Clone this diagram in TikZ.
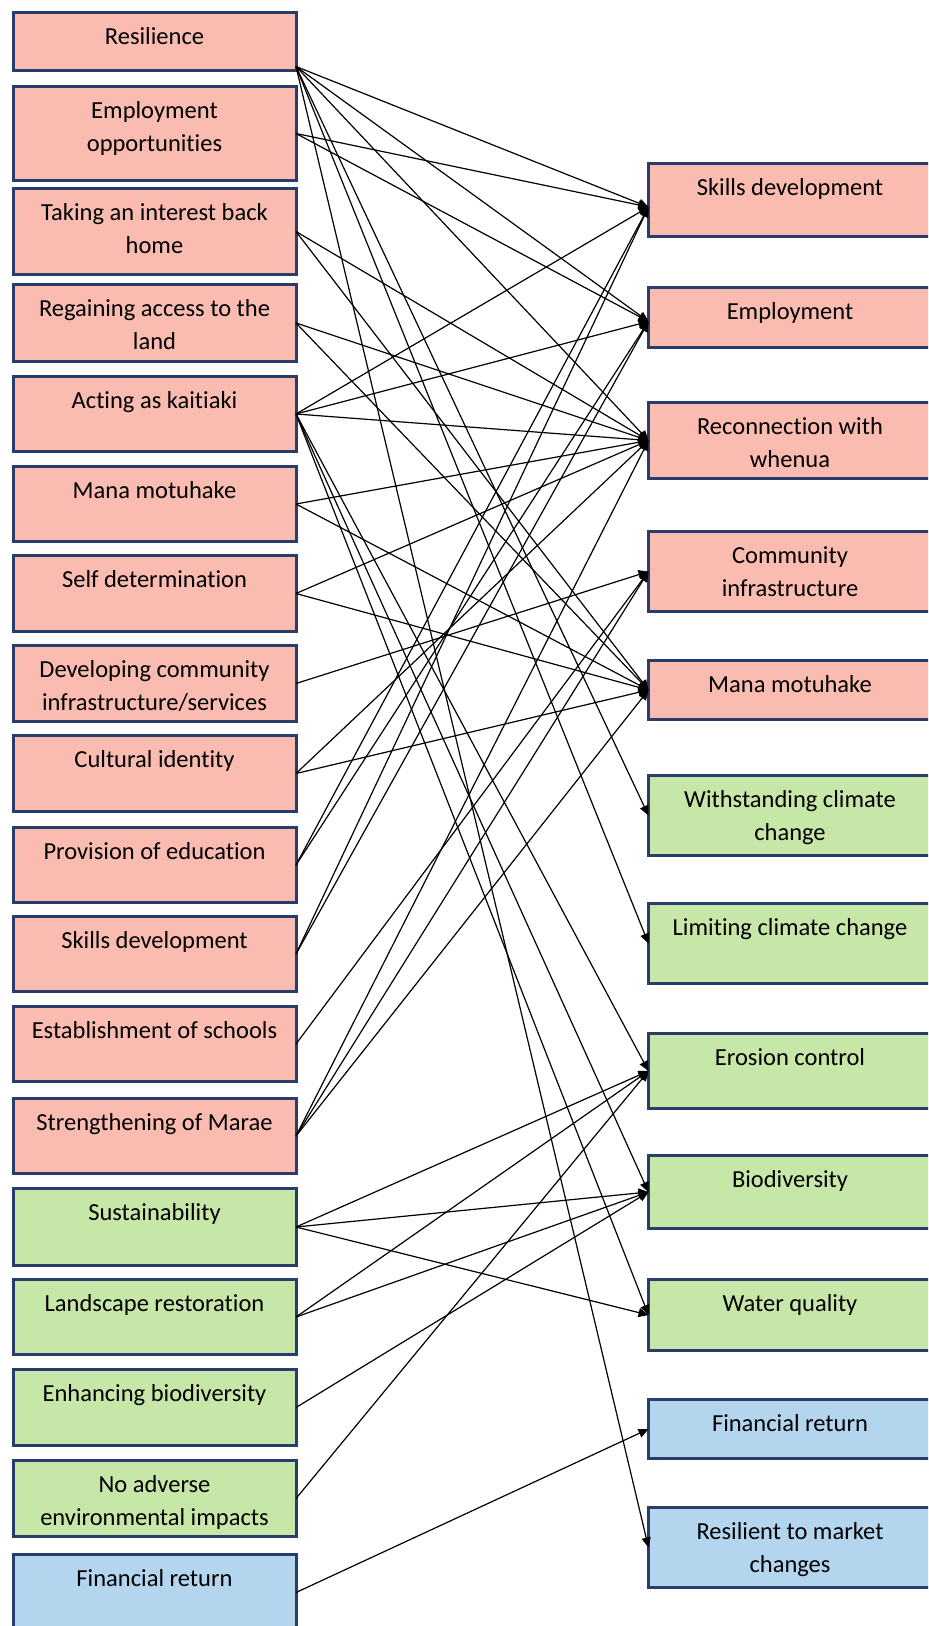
\documentclass[tikz,border=0pt]{standalone}
\usepackage{fontspec}
\setmainfont[Ligatures=NoCommon]{Carlito}
\usetikzlibrary{arrows.meta}

\definecolor{socialfill}{RGB}{250,187,176}
\definecolor{envfill}{RGB}{198,231,168}
\definecolor{econfill}{RGB}{180,213,238}
\definecolor{boxedge}{RGB}{40,61,107}

\tikzset{
    box/.style={draw=boxedge, line width=1.5pt, minimum width=141.5pt, inner sep=0pt, outer sep=0pt},
    boxtext/.style={anchor=north, align=center, inner sep=0pt, font=\fontsize{12.25}{16.35}\selectfont},
    link/.style={-{Triangle[length=5pt,width=4.5pt]}, line width=0.6pt},
}

\begin{document}
\begin{tikzpicture}[x=0.5pt,y=-0.5pt]
        % page
            \useasboundingbox (0,0) rectangle (928,1626);
            \clip (0,0) rectangle (928,1626);
            \fill[white] (0,0) rectangle (928,1626);
        % motivations
            \foreach \n/\ya/\yb/\col/\txt in {
                L1/11/72/socialfill/Resilience,
                L2/85/182/socialfill/{Employment\\opportunities},
                L3/187/276/socialfill/{Taking an interest back\\home},
                L4/283/363/socialfill/{Regaining access to the\\land},
                L5/375/453/socialfill/Acting as kaitiaki,
                L6/465/543/socialfill/Mana motuhake,
                L7/554/633/socialfill/Self determination,
                L8/644/723/socialfill/{Developing community\\infrastructure/services},
                L9/734/813/socialfill/Cultural identity,
                L10/826/904/socialfill/Provision of education,
                L11/915/993/socialfill/Skills development,
                L12/1005/1083/socialfill/Establishment of schools,
                L13/1097/1175/socialfill/Strengthening of Marae,
                L14/1187/1267/envfill/Sustainability,
                L15/1278/1356/envfill/Landscape restoration,
                L16/1368/1447/envfill/Enhancing biodiversity,
                L17/1459/1538/envfill/{No adverse\\environmental impacts},
                L18/1553/1632/econfill/Financial return}{
                \node[box, fill=\col, minimum height=(\yb-\ya-3)*0.5pt] (\n) at (154.5,{(\ya+\yb)/2}) {};
                \node[boxtext] (\n-txt) at (154.5,\ya+10.6) {\strut\txt};
                \coordinate (\n-out) at (\n.east);
            }
            \coordinate (L1-out) at ([yshift=2pt]L1.south east);
        % outcomes
            \foreach \n/\ya/\yb/\col/\txt in {
                R1/162/238/socialfill/Skills development,
                R2/286/349/socialfill/Employment,
                R3/401/480/socialfill/{Reconnection with\\whenua},
                R4/530/613/socialfill/{Community\\infrastructure},
                R5/659/721/socialfill/Mana motuhake,
                R6/774/857/envfill/{Withstanding climate\\change},
                R7/902/985/envfill/Limiting climate change,
                R8/1032/1110/envfill/Erosion control,
                R9/1154/1230/envfill/Biodiversity,
                R10/1278/1352/envfill/Water quality,
                R11/1398/1460/econfill/Financial return,
                R12/1506/1589/econfill/{Resilient to market\\changes}}{
                \node[box, fill=\col, minimum height=(\yb-\ya-3)*0.5pt] (\n) at (790,{(\ya+\yb)/2}) {};
                \node[boxtext] (\n-txt) at (790,\ya+10.6) {\strut\txt};
                \coordinate (\n-in) at (\n.west);
            }
            \coordinate (R1-in) at ([yshift=-3.5pt]R1.west);
            \coordinate (R2-in) at ([yshift=-2pt]R2.west);
        % links
            \foreach \a/\b in {L1/R1,L1/R2,L1/R3,L1/R6,L1/R7,L1/R12,
                L2/R1,L2/R2,L3/R3,L3/R5,L4/R3,L4/R5,
                L5/R1,L5/R2,L5/R3,L5/R8,L5/R9,L5/R10,
                L6/R3,L6/R5,L7/R3,L7/R5,L8/R4,L9/R3,L9/R5,
                L10/R1,L10/R2,L11/R1,L11/R2,L12/R4,
                L13/R3,L13/R4,L13/R5,
                L14/R8,L14/R9,L14/R10,L15/R8,L15/R9,
                L16/R9,L17/R8,L18/R11}{
                \draw[link] (\a-out) -- (\b-in);
            }
\end{tikzpicture}
\end{document}
